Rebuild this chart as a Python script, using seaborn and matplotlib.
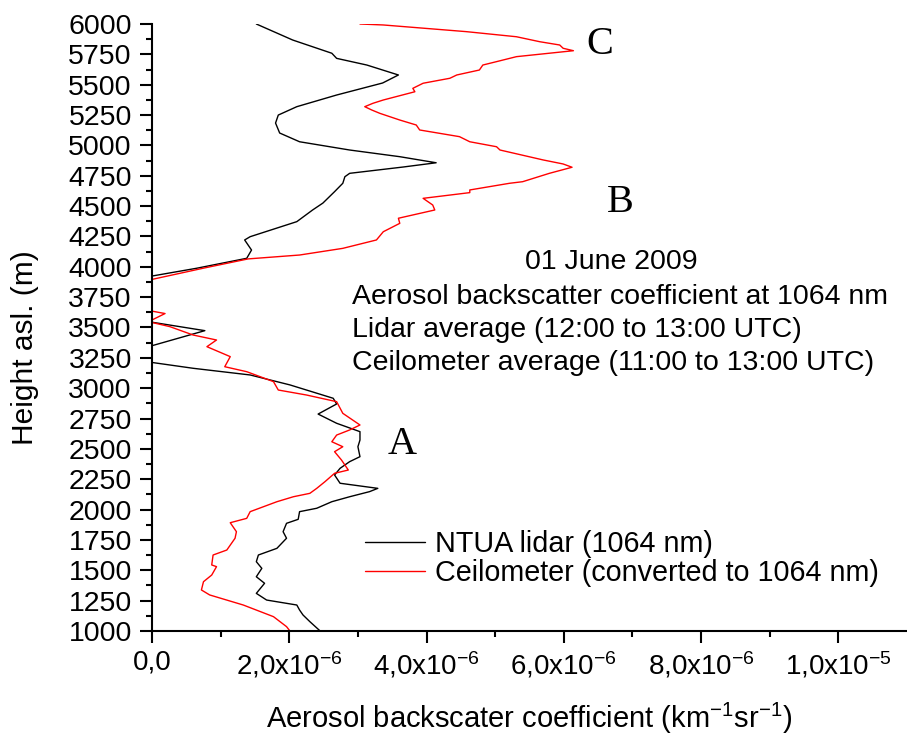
import numpy as np
import pandas as pd
import matplotlib
matplotlib.use('Agg')
import matplotlib.pyplot as plt
import seaborn as sns

# lidar profile (height asl in m, backscatter in 1e-6 km-1 sr-1)
lidar_height = [6000, 5868, 5759, 5717, 5662, 5580, 5514, 5415, 5319, 5250, 5184, 5102,
                5030, 4962, 4907, 4857, 4822, 4770, 4742, 4688, 4619, 4525, 4468, 4372,
                4248, 4221, 4138, 4070, 3988, 3919, 3548, 3474, 3342, 3216, 3164, 3109,
                3027, 2917, 2870, 2787, 2711, 2642, 2573, 2518, 2436, 2395, 2340, 2285,
                2217, 2175, 2148, 2106, 2065, 2011, 1983, 1920, 1887, 1818, 1764, 1681,
                1626, 1571, 1516, 1447, 1393, 1310, 1255, 1214, 1173, 1132, 1077, 1000]
lidar_beta = [1.52, 2.05, 2.62, 2.69, 3.13, 3.59, 3.36, 2.69, 2.11, 1.84, 1.80, 1.86,
              2.15, 2.88, 3.61, 4.14, 3.66, 2.88, 2.81, 2.78, 2.66, 2.49, 2.34, 2.11,
              1.43, 1.35, 1.45, 1.38, 0.65, -0.05, -0.05, 0.77, -0.05, -0.05, 0.60, 1.43,
              2.01, 2.64, 2.69, 2.42, 2.69, 3.03, 3.03, 3.00, 3.03, 2.88, 2.74, 2.66,
              2.74, 3.29, 3.17, 2.88, 2.62, 2.40, 2.15, 2.13, 1.96, 1.91, 1.96, 1.82,
              1.55, 1.52, 1.60, 1.52, 1.64, 1.52, 1.67, 2.11, 2.15, 2.20, 2.30, 2.45]

# ceilometer profile
ceil_height = [6000, 5992, 5937, 5895, 5854, 5827, 5800, 5780, 5731, 5690, 5662, 5621,
               5580, 5553, 5512, 5470, 5442, 5374, 5347, 5319, 5292, 5264, 5209, 5168,
               5127, 5072, 5030, 4989, 4962, 4880, 4847, 4820, 4770, 4701, 4688, 4633,
               4611, 4564, 4509, 4468, 4400, 4358, 4289, 4221, 4152, 4097, 4065, 3990,
               3890, 3640, 3615, 3548, 3507, 3438, 3397, 3342, 3260, 3177, 3136, 3054,
               2985, 2944, 2889, 2793, 2697, 2656, 2614, 2559, 2518, 2477, 2409, 2326,
               2299, 2230, 2175, 2134, 2106, 2065, 1983, 1928, 1892, 1818, 1764, 1667,
               1626, 1544, 1530, 1461, 1406, 1338, 1297, 1214, 1118, 1036, 1000]
ceil_beta = [3.03, 3.37, 4.58, 5.31, 5.65, 5.94, 5.99, 6.14, 5.31, 5.02, 4.82, 4.77,
             4.44, 4.34, 3.95, 3.80, 3.83, 3.37, 3.22, 3.10, 3.20, 3.32, 3.61, 3.85,
             3.90, 4.48, 4.63, 5.02, 5.07, 5.70, 5.99, 6.12, 5.79, 5.40, 5.21, 4.63,
             4.63, 3.95, 4.09, 4.12, 3.59, 3.61, 3.37, 3.27, 2.78, 2.15, 1.40, 0.76,
             -0.05, -0.05, 0.19, -0.05, 0.26, 0.60, 0.94, 0.80, 1.14, 1.06, 1.38, 1.77,
             1.84, 2.25, 2.69, 2.78, 3.03, 2.88, 2.69, 2.62, 2.78, 2.66, 2.76, 2.86,
             2.66, 2.52, 2.40, 2.30, 2.06, 1.82, 1.43, 1.38, 1.14, 1.23, 1.21, 1.09,
             0.89, 0.87, 0.94, 0.87, 0.75, 0.72, 0.84, 1.33, 1.77, 1.96, 2.01]

xtick_vals = [0, 2e-6, 4e-6, 6e-6, 8e-6, 1e-5]
xtick_labels = ['0,0', '2,0x10$^{-6}$', '4,0x10$^{-6}$', '6,0x10$^{-6}$',
                '8,0x10$^{-6}$', '1,0x10$^{-5}$']

sns.set_style('ticks')
plt.rcParams['font.family'] = ['Liberation Sans', 'DejaVu Sans']
plt.rcParams['mathtext.default'] = 'regular'
plt.rcParams['text.color'] = 'black'
plt.rcParams['axes.labelcolor'] = 'black'
plt.rcParams['xtick.color'] = 'black'
plt.rcParams['ytick.color'] = 'black'
plt.rcParams['axes.edgecolor'] = 'black'

lidar = pd.DataFrame({'beta': np.array(lidar_beta) * 1e-6, 'height': lidar_height})
ceil = pd.DataFrame({'beta': np.array(ceil_beta) * 1e-6, 'height': ceil_height})

fig = plt.figure(figsize=(9.07, 7.34), dpi=100)
ax = fig.add_axes([152 / 907, 1 - 631 / 734, 1 - 152 / 907, 607 / 734])

sns.lineplot(data=lidar, x='beta', y='height', sort=False, estimator=None, orient='y',
             color='black', lw=1.0, ax=ax, label='NTUA lidar (1064 nm)')
sns.lineplot(data=ceil, x='beta', y='height', sort=False, estimator=None, orient='y',
             color='red', lw=1.0, ax=ax, label='Ceilometer (converted to 1064 nm)')

ax.set_xlim(0, 1.1e-5)
ax.set_ylim(1000, 6000)
ax.set_yticks(np.arange(1000, 6001, 250))
ax.set_yticks(np.arange(1125, 6000, 250), minor=True)
ax.set_xticks(xtick_vals)
ax.set_xticklabels(xtick_labels, fontsize=20)
ax.set_xticks(np.arange(1e-6, 1.1e-5, 2e-6), minor=True)
ax.tick_params(axis='y', labelsize=20.5, pad=6)
ax.tick_params(axis='x', pad=5)
ax.tick_params(which='major', length=8.5, width=1.5, direction='out')
ax.tick_params(which='minor', length=4.3, width=1.5, direction='out')
sns.despine(ax=ax)
for s in ['left', 'bottom']:
    ax.spines[s].set_linewidth(1.5)

ax.set_xlabel('Aerosol backscater coefficient (km$^{-1}$sr$^{-1}$)', fontsize=21)
ax.set_ylabel('Height asl. (m)', fontsize=21.5)
ax.xaxis.label.set_va('center')
ax.xaxis.set_label_coords(0.5, (631 - 718) / 607)
ax.yaxis.label.set_va('center')
ax.yaxis.set_label_coords((25 - 152) / 755, (631 - 348) / 607)

leg = ax.legend(loc='center left', bbox_to_anchor=(365 / 907, 1 - 558.5 / 734),
                bbox_transform=fig.transFigure, frameon=False, fontsize=20.7,
                handlelength=2.1, handletextpad=0.35, labelspacing=0.05,
                borderpad=0, borderaxespad=0)

fig.text(611 / 907, 1 - 262 / 734, '01 June 2009', ha='center', va='center', fontsize=20.5)
fig.text(352 / 907, 1 - 297 / 734, 'Aerosol backscatter coefficient at 1064 nm',
         ha='left', va='center', fontsize=20.5)
fig.text(352 / 907, 1 - 330 / 734, 'Lidar average (12:00 to 13:00 UTC)',
         ha='left', va='center', fontsize=20.5)
fig.text(352 / 907, 1 - 363 / 734, 'Ceilometer average (11:00 to 13:00 UTC)',
         ha='left', va='center', fontsize=20.5)

for letter, px, py in [('C', 600, 45), ('B', 620, 202), ('A', 402, 444)]:
    fig.text(px / 907, 1 - py / 734, letter, ha='center', va='center',
             fontsize=29, fontfamily='Liberation Serif')

fig.savefig('out.png', dpi=100)
